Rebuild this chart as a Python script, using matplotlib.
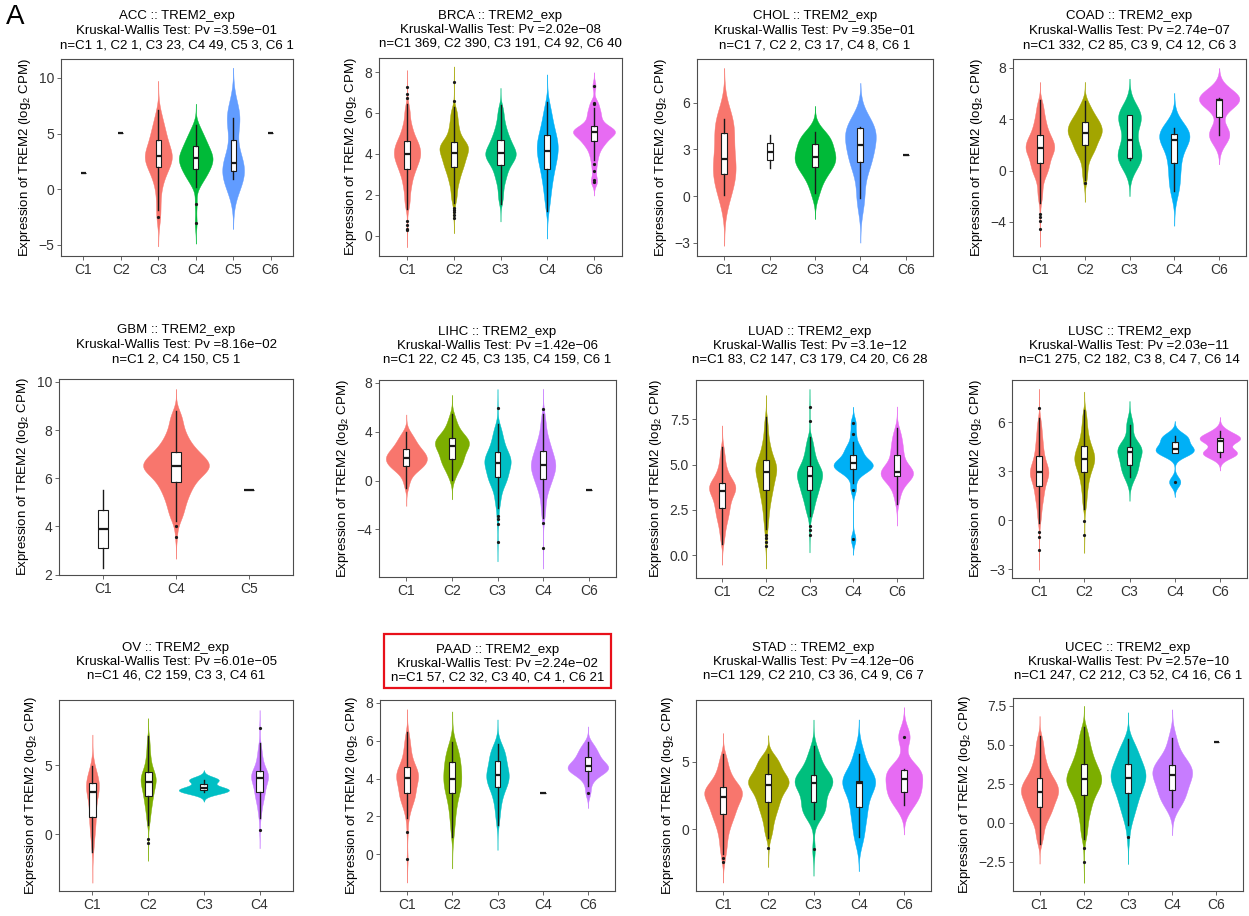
import math
import numpy as np
import matplotlib
matplotlib.use('Agg')
import matplotlib.pyplot as plt
from matplotlib import cbook
from matplotlib.transforms import ScaledTranslation
from matplotlib.patches import Rectangle

plt.rcParams['font.family'] = ['Liberation Sans', 'DejaVu Sans']
plt.rcParams['mathtext.fontset'] = 'custom'
plt.rcParams['mathtext.rm'] = 'Liberation Sans'
plt.rcParams['mathtext.it'] = 'Liberation Sans:italic'
plt.rcParams['mathtext.bf'] = 'Liberation Sans:bold'
plt.rcParams['axes.unicode_minus'] = True

# ---------------------------------------------------------------- data
cancers = ['ACC', 'BRCA', 'CHOL', 'COAD', 'GBM', 'LIHC',
           'LUAD', 'LUSC', 'OV', 'PAAD', 'STAD', 'UCEC']
pvalues = ['3.59e\u221201', '2.02e\u221208', '9.35e\u221201', '2.74e\u221207',
           '8.16e\u221202', '1.42e\u221206', '3.1e\u221212', '2.03e\u221211',
           '6.01e\u221205', '2.24e\u221202', '4.12e\u221206', '2.57e\u221210']

ACC_groups = ['C1', 'C2', 'C3', 'C4', 'C5', 'C6']
ACC_n = [1, 1, 23, 49, 3, 1]
ACC_values = [[1.47], [5.06],
              [-1.83, 0.5, 1.4, 2.0, 2.45, 2.8, 3.02, 3.3, 3.8, 4.46, 5.0, 5.8, 7.1],
              [0.21, 1.0, 1.5, 1.86, 2.25, 2.55, 2.84, 3.1, 3.45, 3.89, 4.3, 4.9, 5.81],
              [0.9, 2.4, 6.44], [5.09]]
ACC_outliers = [[], [], [-2.49], [-1.29, -3.02], [], []]

BRCA_groups = ['C1', 'C2', 'C3', 'C4', 'C6']
BRCA_n = [369, 390, 191, 92, 40]
BRCA_values = [[1.29, 2.3, 2.9, 3.27, 3.55, 3.78, 3.98, 4.18, 4.4, 4.62, 4.95, 5.45, 6.43],
               [1.59, 2.5, 3.0, 3.34, 3.6, 3.85, 4.06, 4.25, 4.42, 4.6, 4.95, 5.5, 6.27],
               [1.54, 2.6, 3.1, 3.47, 3.7, 3.88, 4.04, 4.2, 4.42, 4.68, 5.0, 5.5, 6.38],
               [1.21, 2.2, 2.8, 3.26, 3.6, 3.9, 4.16, 4.4, 4.65, 4.93, 5.3, 5.8, 6.53],
               [3.7, 4.2, 4.5, 4.65, 4.85, 4.97, 5.06, 5.13, 5.22, 5.34, 5.6, 5.95, 6.24]]
BRCA_outliers = [[0.26, 0.34, 0.54, 0.7, 6.71, 6.94, 7.27],
                 [0.88, 1.0, 1.13, 1.24, 1.37, 6.6, 7.51],
                 [], [],
                 [2.62, 2.7, 3.17, 3.52, 6.45, 6.51, 7.33]]

CHOL_groups = ['C1', 'C2', 'C3', 'C4', 'C6']
CHOL_n = [7, 2, 17, 8, 1]
CHOL_values = [[0.09, 1.2, 1.66, 2.39, 3.5, 4.58, 4.94],
               [1.79, 3.91],
               [0.19, 0.9, 1.3, 1.6, 1.84, 2.0, 2.2, 2.35, 2.5, 2.65, 2.8, 3.05,
                3.35, 3.5, 3.7, 3.9, 4.12],
               [-0.15, 1.8, 2.3, 3.0, 3.5, 4.35, 4.4, 4.42],
               [2.63]]
CHOL_outliers = [[], [], [], [], []]

COAD_groups = ['C1', 'C2', 'C3', 'C4', 'C6']
COAD_n = [332, 85, 9, 12, 3]
COAD_values = [[-2.49, -0.6, 0.1, 0.55, 1.1, 1.45, 1.77, 2.05, 2.4, 2.8, 3.4, 4.2, 5.48],
               [-0.7, 1.0, 1.6, 1.95, 2.4, 2.75, 2.96, 3.2, 3.5, 3.77, 4.1, 4.6, 5.4],
               [0.8, 0.9, 0.94, 1.5, 2.36, 3.8, 4.31, 4.33, 4.36],
               [-1.58, -0.9, 0.1, 0.7, 1.5, 2.3, 2.42, 2.6, 2.85, 2.97, 3.1, 3.32],
               [2.8, 5.48, 5.66]]
COAD_outliers = [[-3.35, -3.6, -3.95, -4.52], [-0.94], [], [], []]

GBM_groups = ['C1', 'C4', 'C5']
GBM_n = [2, 150, 1]
GBM_values = [[2.28, 5.49],
              [4.24, 5.0, 5.5, 5.85, 6.15, 6.35, 6.5, 6.65, 6.85, 7.08, 7.4, 7.9, 8.8],
              [5.49]]
GBM_outliers = [[], [3.56, 4.0], []]

LIHC_groups = ['C1', 'C2', 'C3', 'C4', 'C6']
LIHC_n = [22, 45, 135, 159, 1]
LIHC_values = [[-0.63, 0.7, 1.05, 1.22, 1.5, 1.7, 1.88, 2.05, 2.3, 2.56, 2.9, 3.4, 3.95],
               [0.05, 1.0, 1.45, 1.77, 2.2, 2.55, 2.86, 3.05, 3.25, 3.46, 3.8, 4.4, 5.42],
               [-2.26, -0.8, -0.1, 0.27, 0.7, 1.1, 1.41, 1.7, 2.0, 2.37, 2.9, 3.6, 4.6],
               [-3.07, -1.2, -0.35, 0.14, 0.6, 0.95, 1.28, 1.6, 2.0, 2.45, 3.0, 3.8, 5.42],
               [-0.76]]
LIHC_outliers = [[], [], [-5.03, -3.56, -3.13, -2.88, 5.9], [-5.52, -3.48, 5.82], []]

LUAD_groups = ['C1', 'C2', 'C3', 'C4', 'C6']
LUAD_n = [83, 147, 179, 20, 28]
LUAD_values = [[0.63, 1.7, 2.2, 2.59, 2.95, 3.3, 3.55, 3.7, 3.85, 4.0, 4.35, 4.9, 5.99],
               [1.43, 2.5, 3.15, 3.6, 3.95, 4.3, 4.56, 4.8, 5.0, 5.26, 5.7, 6.3, 7.61],
               [2.13, 2.8, 3.25, 3.57, 3.85, 4.1, 4.34, 4.5, 4.7, 4.94, 5.3, 5.8, 6.54],
               [3.97, 4.55, 4.7, 4.74, 4.88, 4.98, 5.07, 5.12, 5.2, 5.53, 5.7, 5.95, 6.27],
               [2.83, 3.7, 4.1, 4.34, 4.45, 4.53, 4.61, 4.75, 5.05, 5.51, 5.9, 6.4, 7.0]]
LUAD_outliers = [[], [0.48, 0.7, 0.94, 1.12], [1.12, 1.4, 1.58, 7.43, 8.2],
                 [0.88, 3.6, 6.69, 7.32], []]

LUSC_groups = ['C1', 'C2', 'C3', 'C4', 'C6']
LUSC_n = [275, 182, 8, 7, 14]
LUSC_values = [[-0.16, 1.0, 1.6, 2.09, 2.5, 2.75, 2.97, 3.2, 3.5, 3.93, 4.5, 5.2, 6.24],
               [0.67, 1.8, 2.5, 2.97, 3.3, 3.55, 3.78, 4.0, 4.25, 4.56, 5.0, 5.7, 6.75],
               [2.66, 3.2, 3.45, 4.05, 4.25, 4.45, 4.65, 5.83],
               [4.1, 4.16, 4.36, 4.6, 5.02, 5.15],
               [3.89, 4.0, 4.1, 4.15, 4.2, 4.25, 4.85, 4.9, 4.95, 5.0, 5.02, 5.1, 5.3, 5.48]]
LUSC_outliers = [[-1.84, -1.02, -0.72, 6.85], [-0.88, -0.06], [], [2.35], []]

OV_groups = ['C1', 'C2', 'C3', 'C4']
OV_n = [46, 159, 3, 61]
OV_values = [[-1.28, 0.0, 0.8, 1.26, 1.9, 2.6, 3.07, 3.3, 3.5, 3.67, 4.0, 4.4, 4.95],
             [0.65, 1.7, 2.3, 2.78, 3.15, 3.5, 3.77, 4.0, 4.25, 4.52, 5.0, 5.8, 7.13],
             [3.05, 3.3, 3.92],
             [1.14, 2.2, 2.7, 3.07, 3.45, 3.78, 4.03, 4.2, 4.38, 4.57, 5.0, 5.6, 6.57]]
OV_outliers = [[], [-0.68, -0.39], [], [0.29, 7.66]]

PAAD_groups = ['C1', 'C2', 'C3', 'C4', 'C6']
PAAD_n = [57, 32, 40, 1, 21]
PAAD_values = [[1.9, 2.7, 3.0, 3.22, 3.55, 3.85, 4.04, 4.2, 4.4, 4.59, 5.0, 5.6, 6.43],
               [0.9, 2.0, 2.7, 3.22, 3.5, 3.75, 4.0, 4.25, 4.55, 4.85, 5.15, 5.5, 5.9],
               [1.55, 2.6, 3.2, 3.57, 3.8, 4.0, 4.18, 4.35, 4.6, 4.94, 5.2, 5.5, 5.8],
               [3.22],
               [3.62, 4.1, 4.3, 4.41, 4.5, 4.58, 4.67, 4.78, 4.95, 5.15, 5.35, 5.6, 5.94]]
PAAD_outliers = [[-0.26, 1.16], [], [], [], [3.25]]

STAD_groups = ['C1', 'C2', 'C3', 'C4', 'C6']
STAD_n = [129, 210, 36, 9, 7]
STAD_values = [[-1.85, -0.3, 0.6, 1.11, 1.6, 2.0, 2.36, 2.65, 2.9, 3.15, 3.6, 4.3, 5.57],
               [-0.67, 0.7, 1.5, 2.04, 2.55, 2.95, 3.28, 3.5, 3.75, 4.06, 4.5, 5.0, 5.57],
               [0.74, 1.2, 1.6, 2.0, 2.6, 3.1, 3.4, 3.55, 3.75, 3.99, 4.5, 5.2, 6.16],
               [-0.54, 0.8, 1.63, 2.6, 3.45, 3.52, 3.6, 4.3, 5.57],
               [1.8, 2.6, 2.96, 3.69, 4.3, 4.46]]
STAD_outliers = [[-2.39, -2.14], [-1.4], [-1.48], [], [6.85]]

UCEC_groups = ['C1', 'C2', 'C3', 'C4', 'C6']
UCEC_n = [247, 212, 52, 16, 1]
UCEC_values = [[-1.37, 0.0, 0.6, 0.99, 1.4, 1.72, 1.99, 2.25, 2.55, 2.89, 3.4, 4.2, 5.57],
               [-1.07, 0.4, 1.2, 1.78, 2.2, 2.5, 2.78, 3.05, 3.4, 3.77, 4.3, 5.0, 6.12],
               [-0.15, 0.8, 1.4, 1.88, 2.3, 2.65, 2.89, 3.15, 3.45, 3.77, 4.2, 4.7, 5.35],
               [1.03, 1.4, 1.7, 1.95, 2.15, 2.6, 2.8, 2.95, 3.1, 3.3, 3.5, 3.68, 3.8,
                4.1, 4.6, 5.42],
               [5.14]]
UCEC_outliers = [[], [-2.5, -1.6], [-0.94], [], []]

# y-axis ticks and limits per panel
yticks = {'ACC': [-5, 0, 5, 10], 'BRCA': [0, 2, 4, 6, 8], 'CHOL': [-3, 0, 3, 6],
          'COAD': [-4, 0, 4, 8], 'GBM': [2, 4, 6, 8, 10], 'LIHC': [-4, 0, 4, 8],
          'LUAD': [0.0, 2.5, 5.0, 7.5], 'LUSC': [-3, 0, 3, 6], 'OV': [0, 5],
          'PAAD': [0, 2, 4, 6, 8], 'STAD': [0, 5], 'UCEC': [-2.5, 0.0, 2.5, 5.0, 7.5]}
ylims = {'ACC': (-6.0, 11.7), 'BRCA': (-1.0, 8.69), 'CHOL': (-3.85, 8.8),
         'COAD': (-6.65, 8.68), 'GBM': (1.98, 10.12), 'LIHC': (-7.89, 8.22),
         'LUAD': (-1.27, 9.67), 'LUSC': (-3.54, 8.59), 'OV': (-4.13, 9.71),
         'PAAD': (-1.93, 8.14), 'STAD': (-4.56, 9.56), 'UCEC': (-4.39, 7.99)}

panel_data = {
    'ACC': (ACC_groups, ACC_n, ACC_values, ACC_outliers),
    'BRCA': (BRCA_groups, BRCA_n, BRCA_values, BRCA_outliers),
    'CHOL': (CHOL_groups, CHOL_n, CHOL_values, CHOL_outliers),
    'COAD': (COAD_groups, COAD_n, COAD_values, COAD_outliers),
    'GBM': (GBM_groups, GBM_n, GBM_values, GBM_outliers),
    'LIHC': (LIHC_groups, LIHC_n, LIHC_values, LIHC_outliers),
    'LUAD': (LUAD_groups, LUAD_n, LUAD_values, LUAD_outliers),
    'LUSC': (LUSC_groups, LUSC_n, LUSC_values, LUSC_outliers),
    'OV': (OV_groups, OV_n, OV_values, OV_outliers),
    'PAAD': (PAAD_groups, PAAD_n, PAAD_values, PAAD_outliers),
    'STAD': (STAD_groups, STAD_n, STAD_values, STAD_outliers),
    'UCEC': (UCEC_groups, UCEC_n, UCEC_values, UCEC_outliers),
}

# ---------------------------------------------------------------- layout (pixels)
W, H = 1249, 916
axes_px = {  # left, top, right, bottom
    'ACC': (61, 59, 293, 256), 'BRCA': (379, 58, 622, 256),
    'CHOL': (697, 59, 933, 256), 'COAD': (1013, 59, 1246, 256),
    'GBM': (59, 379, 293, 575), 'LIHC': (379, 380, 616, 577),
    'LUAD': (696, 380, 923, 578), 'LUSC': (1012, 380, 1247, 578),
    'OV': (59, 700, 293, 891), 'PAAD': (380, 700, 615, 891),
    'STAD': (696, 700, 931, 891), 'UCEC': (1013, 698, 1243, 891),
}
title_gap = {'ACC': 8, 'BRCA': 8, 'CHOL': 8, 'COAD': 8,
             'GBM': 14, 'LIHC': 14, 'LUAD': 14, 'LUSC': 14,
             'OV': 18, 'PAAD': 16, 'STAD': 18, 'UCEC': 16}

hue_pal = {1: ['#F8766D'],
           2: ['#F8766D', '#00BFC4'],
           3: ['#F8766D', '#00BA38', '#619CFF'],
           4: ['#F8766D', '#7CAE00', '#00BFC4', '#C77CFF'],
           5: ['#F8766D', '#A3A500', '#00BF7D', '#00B0F6', '#E76BF3']}

AXCOL = '#4D4D4D'
FS = 9.5
TICKFS = 10
DARK = '#1A1A1A'

_erf = np.vectorize(math.erf)


def _Phi(z):
    return 0.5 * (1.0 + _erf(z / math.sqrt(2.0)))


def nrd0(x, n):
    x = np.asarray(x, float)
    sd = np.std(x, ddof=1)
    q1, q3 = np.percentile(x, [25, 75])
    lo = min(sd, (q3 - q1) / 1.34)
    if lo <= 0:
        lo = sd if sd > 0 else 1.0
    return 0.9 * lo * n ** -0.2


def group_summary(vals, outl, n):
    combined = np.array(sorted(list(vals) + list(outl)), float)
    exact = len(combined) == n
    if exact:
        st = cbook.boxplot_stats(combined, whis=1.5)[0]
        src = combined
    else:
        q1, med, q3 = np.percentile(vals, [25, 50, 75])
        st = dict(med=med, q1=q1, q3=q3, whislo=min(vals), whishi=max(vals),
                  fliers=np.array(outl, float))
        src = np.array(vals, float)
    return st, src, exact


def violin_density(vals, outl, n, src, exact):
    bw = nrd0(src, n)
    allpts = np.array(list(vals) + list(outl), float)
    grid = np.linspace(allpts.min() - 3 * bw, allpts.max() + 3 * bw, 512)
    dens = np.zeros_like(grid)
    norm = bw * math.sqrt(2 * math.pi)
    if exact:
        # every observation is a point mass (Gaussian kernel)
        for p in allpts:
            dens += np.exp(-0.5 * ((grid - p) / bw) ** 2) / (n * norm)
    else:
        # body values are quantiles: equal mass between consecutive quantiles
        v = np.sort(np.asarray(vals, float))
        body_mass = (n - len(outl)) / n
        seg_mass = body_mass / (len(v) - 1)
        for a, b in zip(v[:-1], v[1:]):
            if b - a < 1e-6:
                dens += seg_mass * np.exp(-0.5 * ((grid - a) / bw) ** 2) / norm
            else:
                dens += seg_mass * (_Phi((grid - a) / bw) - _Phi((grid - b) / bw)) / (b - a)
        for p in outl:
            dens += np.exp(-0.5 * ((grid - p) / bw) ** 2) / (n * norm)
    return grid, dens


fig = plt.figure(figsize=(W / 100, H / 100), dpi=100)

for ci, cancer in enumerate(cancers):
    groups, ns, values, outliers = panel_data[cancer]
    l, t, r, b = axes_px[cancer]
    ax = fig.add_axes([l / W, 1 - b / H, (r - l) / W, (b - t) / H])
    k = len(groups)
    positions = np.arange(1, k + 1)

    stats = []
    vp_list, vp_pos, vp_dmax = [], [], []
    for gi in range(k):
        st, src, exact = group_summary(values[gi], outliers[gi], ns[gi])
        stats.append(st)
        if ns[gi] >= 3:
            grid, dens = violin_density(values[gi], outliers[gi], ns[gi], src, exact)
            vp_list.append(dict(coords=grid, vals=dens, mean=np.mean(src),
                                median=np.median(src), min=grid.min(), max=grid.max()))
            vp_pos.append(positions[gi])
            vp_dmax.append(dens.max())

    if vp_list:
        dmax_all = max(vp_dmax)
        widths = [0.9 * d / dmax_all for d in vp_dmax]
        parts = ax.violin(vp_list, positions=vp_pos, widths=widths,
                          showmeans=False, showextrema=False, showmedians=False)
        cols = hue_pal[len(vp_list)]
        for body, c in zip(parts['bodies'], cols):
            body.set_facecolor(c)
            body.set_edgecolor(c)
            body.set_linewidth(0.3)
            body.set_alpha(1)
            body.set_zorder(1)

    ax.bxp(stats, positions=positions, widths=0.13, patch_artist=True,
           showcaps=False, showfliers=True, zorder=3,
           boxprops=dict(facecolor='white', edgecolor=DARK, linewidth=0.8),
           medianprops=dict(color=DARK, linewidth=1.6, solid_capstyle='butt'),
           whiskerprops=dict(color=DARK, linewidth=1.0),
           flierprops=dict(marker='o', markersize=1.3, markerfacecolor=DARK,
                           markeredgecolor=DARK, linestyle='none'))

    ax.set_xlim(0.4, k + 0.6)
    ax.set_ylim(*ylims[cancer])
    ax.set_xticks(positions)
    ax.set_xticklabels(groups)
    yt = yticks[cancer]
    ax.set_yticks(yt)
    if cancer in ('LUAD', 'UCEC'):
        ax.set_yticklabels([f'{v:.1f}'.replace('-', '\u2212') for v in yt])
    else:
        ax.set_yticklabels([f'{v:g}'.replace('-', '\u2212') for v in yt])
    ax.tick_params(axis='both', direction='out', length=3, width=0.6, color=AXCOL,
                   labelcolor='#333333', labelsize=TICKFS, pad=2)
    for sp in ax.spines.values():
        sp.set_color(AXCOL)
        sp.set_linewidth(0.8)
    ax.set_ylabel('Expression of TREM2 (log$_2$ CPM)', fontsize=FS, color='black',
                  labelpad=4)

    ntext = 'n=' + ', '.join(f'{g} {n}' for g, n in zip(groups, ns))
    title = f'{cancer} :: TREM2_exp\nKruskal-Wallis Test: Pv ={pvalues[ci]}\n{ntext}'
    trans = ax.transAxes + ScaledTranslation(0, title_gap[cancer] / 100,
                                             fig.dpi_scale_trans)
    ax.text(0.5, 1.0, title, transform=trans, ha='center', va='bottom',
            fontsize=FS, linespacing=1.25, color='black')

# highlight box around the PAAD title
fig.add_artist(Rectangle((384 / W, 1 - 688 / H), (611 - 384) / W, (688 - 634) / H,
                         transform=fig.transFigure, fill=False, edgecolor='#E8101A',
                         linewidth=1.6))

fig.text(6 / W, 1 - 4 / H, 'A', fontsize=20, ha='left', va='top')

fig.savefig('out.png', dpi=100)
